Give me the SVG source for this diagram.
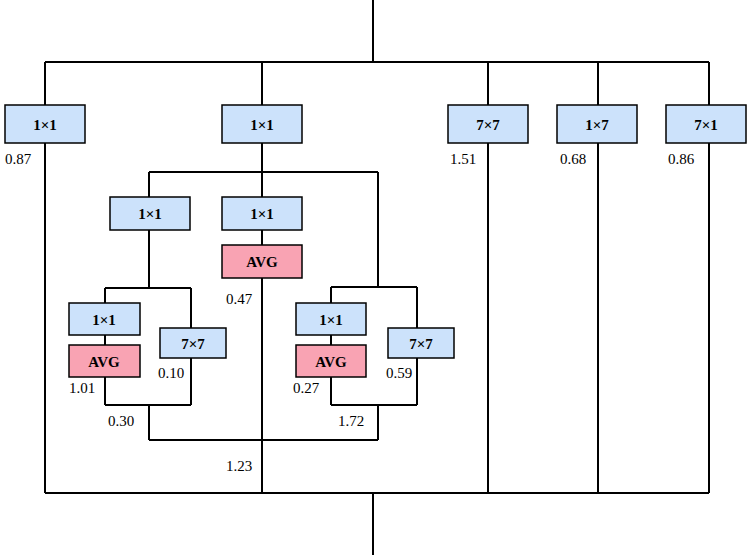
<svg xmlns="http://www.w3.org/2000/svg" width="747" height="555" viewBox="0 0 747 555">
<style>
.b{fill:#cce2fb;stroke:#000;stroke-width:1.5}
.a{fill:#f9a3b3;stroke:#000;stroke-width:1.5}
.t{font-family:"Liberation Serif",serif;font-size:15px;font-weight:bold;text-anchor:middle;fill:#000}
.n{font-family:"Liberation Serif",serif;font-size:15px;fill:#000}
.c{fill:none;stroke:#000;stroke-width:2}
</style>
<rect width="747" height="555" fill="#fff"/>
<g id="connectors" class="c">
<path d="M373 0V62M45 62H709M45 62V105M262 62V105M488 62V105M598 62V105M709 62V105"/>
<path d="M45 143V493M488 143V493M598 143V493M709 143V493M45 493H709M373 493V555"/>
<path d="M262 143V172M149 172H378M149 172V197M262 172V197M262 230V245M262 278V493M378 172V287"/>
<path d="M149 230V288M105 288H191M105 288V303M105 335V345M191 288V328M105 377V405M191 358V405M105 405H191M149 405V440M149 440H378"/>
<path d="M331 287H417M331 287V303M331 335V345M417 287V328M331 377V405M417 358V405M331 405H417M378 405V440"/>
</g>
<g id="n1"><rect class="b" x="5" y="105" width="80" height="38"/><text class="t" x="45" y="130">1×1</text></g>
<g id="n2"><rect class="b" x="222" y="105" width="80" height="38"/><text class="t" x="262" y="130">1×1</text></g>
<g id="n3"><rect class="b" x="448" y="105" width="80" height="38"/><text class="t" x="488" y="130">7×7</text></g>
<g id="n4"><rect class="b" x="557" y="105" width="80" height="38"/><text class="t" x="597" y="130">1×7</text></g>
<g id="n5"><rect class="b" x="666" y="105" width="80" height="38"/><text class="t" x="706" y="130">7×1</text></g>
<g id="n6"><rect class="b" x="110" y="197" width="80" height="33"/><text class="t" x="150" y="219">1×1</text></g>
<g id="n7"><rect class="b" x="222" y="197" width="80" height="33"/><text class="t" x="262" y="219">1×1</text></g>
<g id="n8"><rect class="a" x="222" y="245" width="80" height="33"/><text class="t" x="262" y="267">AVG</text></g>
<g id="n9"><rect class="b" x="69" y="303" width="71" height="32"/><text class="t" x="104" y="325">1×1</text></g>
<g id="n10"><rect class="a" x="69" y="345" width="71" height="32"/><text class="t" x="104" y="367">AVG</text></g>
<g id="n11"><rect class="b" x="160" y="328" width="66" height="30"/><text class="t" x="193" y="349">7×7</text></g>
<g id="n12"><rect class="b" x="296" y="303" width="70" height="32"/><text class="t" x="331" y="325">1×1</text></g>
<g id="n13"><rect class="a" x="296" y="345" width="70" height="32"/><text class="t" x="331" y="367">AVG</text></g>
<g id="n14"><rect class="b" x="388" y="328" width="66" height="30"/><text class="t" x="421" y="349">7×7</text></g>
<g id="labels" class="n">
<text x="5" y="164">0.87</text><text x="450" y="164">1.51</text><text x="560" y="164">0.68</text><text x="668" y="164">0.86</text>
<text x="226" y="304">0.47</text><text x="69" y="393">1.01</text><text x="158" y="378">0.10</text>
<text x="293" y="393">0.27</text><text x="386" y="378">0.59</text><text x="108" y="426">0.30</text>
<text x="338" y="426">1.72</text><text x="226" y="471">1.23</text>
</g>
</svg>
